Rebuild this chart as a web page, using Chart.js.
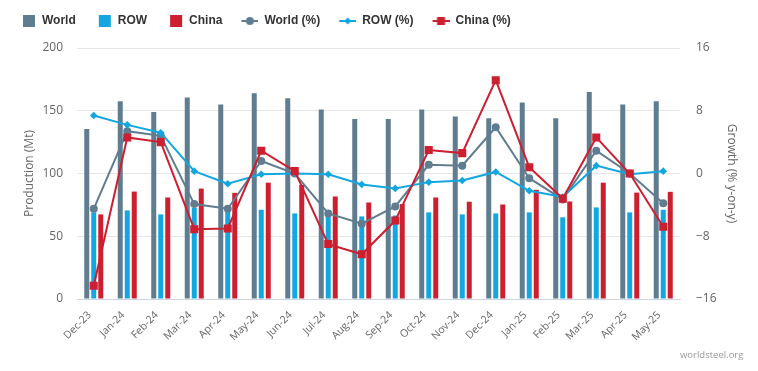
<!DOCTYPE html>
<html><head><meta charset="utf-8">
<script src="https://cdn.jsdelivr.net/npm/chart.js@4.4.1/dist/chart.umd.min.js"></script>
<style>
html,body{margin:0;padding:0;background:#fff;}
#wrap{position:relative;width:758px;height:371px;}
#credit{position:absolute;left:680px;top:348px;font:9.5px "Open Sans",sans-serif;color:#999;white-space:nowrap;}
</style></head><body>
<div id="wrap"><canvas id="c" width="758" height="371"></canvas><div id="credit">worldsteel.org</div></div>
<script>
const categories = ['Dec-23','Jan-24','Feb-24','Mar-24','Apr-24','May-24','Jun-24','Jul-24','Aug-24','Sep-24','Oct-24','Nov-24','Dec-24','Jan-25','Feb-25','Mar-25','Apr-25','May-25'];
const worldMt = [135.5,157.5,149,160.5,155,164,160,151,143.5,143.5,151,145.5,144,156.5,144,165,155,157.5];
const rowMt   = [69,70.6,67.4,72.5,70,71.1,68.2,69.5,65.8,66.5,69,67.4,68.2,69,65.1,73,69,71.1];
const chinaMt = [67.4,85.6,80.9,88,84.6,92.7,90.9,81.7,76.9,75.6,80.9,77.5,75.3,87,77.7,92.7,84.8,85.4];
const worldPct = [-4.5,5.4,4.8,-3.9,-4.5,1.6,0.0,-5.1,-6.4,-4.2,1.1,1.0,5.9,-0.6,-3.3,2.9,0.0,-3.8];
const rowPct   = [7.4,6.2,5.2,0.3,-1.3,-0.1,0.0,-0.1,-1.4,-1.9,-1.1,-0.9,0.2,-2.2,-3.0,1.0,-0.1,0.3];
const chinaPct = [-14.3,4.6,4.0,-7.1,-7.0,2.9,0.3,-9.0,-10.3,-6.0,3.0,2.6,11.9,0.8,-3.2,4.6,0.0,-6.8];
const leftTicks = [0,50,100,150,200];
const rightTicks = [-16,-8,0,8,16];

const C_WORLD = '#607d90', C_ROW = '#12a7e0', C_CHINA = '#cc1f30';
const FONT = '"Open Sans", "DejaVu Sans", sans-serif';
const LFONT = '"Liberation Sans", Arial, sans-serif';

function mk(draw){ const c=document.createElement('canvas'); c.width=28; c.height=12; const x=c.getContext('2d'); draw(x); return c; }
const legendIcons = [
  mk(x=>{x.fillStyle=C_WORLD;x.fillRect(15,0,12,12);}),
  mk(x=>{x.fillStyle=C_ROW;x.fillRect(15,0,12,12);}),
  mk(x=>{x.fillStyle=C_CHINA;x.fillRect(15,0,12,12);}),
  mk(x=>{x.strokeStyle=C_WORLD;x.lineWidth=2;x.beginPath();x.moveTo(11,6);x.lineTo(28,6);x.stroke();x.fillStyle=C_WORLD;x.beginPath();x.arc(19.5,6,4,0,Math.PI*2);x.fill();}),
  mk(x=>{x.strokeStyle=C_ROW;x.lineWidth=2;x.beginPath();x.moveTo(11,6);x.lineTo(28,6);x.stroke();x.fillStyle=C_ROW;x.beginPath();x.moveTo(19.5,2.5);x.lineTo(23,6);x.lineTo(19.5,9.5);x.lineTo(16,6);x.closePath();x.fill();}),
  mk(x=>{x.strokeStyle=C_CHINA;x.lineWidth=2;x.beginPath();x.moveTo(11,6);x.lineTo(28,6);x.stroke();x.fillStyle=C_CHINA;x.fillRect(15.5,2,8,8);})
];

const minus = v => String(v).replace('-', '\u2212');

const legendSpace = {
  id:'legendSpace',
  beforeUpdate(chart){
    const lg = chart.legend;
    if (lg && !lg._padded) {
      const f = lg.fit;
      lg.fit = function(){ f.call(this); this.height += 11; };
      lg._padded = true;
    }
  }
};

new Chart(document.getElementById('c'), {
  type: 'bar',
  data: {
    labels: categories,
    datasets: [
      {label:'World', data:worldMt, backgroundColor:C_WORLD, yAxisID:'y', order:3, categoryPercentage:0.627, barPercentage:0.714},
      {label:'ROW', data:rowMt, backgroundColor:C_ROW, yAxisID:'y', order:4, categoryPercentage:0.627, barPercentage:0.714},
      {label:'China', data:chinaMt, backgroundColor:C_CHINA, yAxisID:'y', order:5, categoryPercentage:0.627, barPercentage:0.714},
      {type:'line', label:'World (%)', data:worldPct, yAxisID:'y1', order:2, borderColor:C_WORLD, backgroundColor:C_WORLD, borderWidth:2, pointStyle:'circle', pointRadius:4, pointBackgroundColor:C_WORLD, pointBorderColor:C_WORLD, pointBorderWidth:0, tension:0},
      {type:'line', label:'ROW (%)', data:rowPct, yAxisID:'y1', order:1, borderColor:C_ROW, backgroundColor:C_ROW, borderWidth:2, pointStyle:'rectRot', pointRadius:3.8, pointBackgroundColor:C_ROW, pointBorderColor:C_ROW, pointBorderWidth:0, tension:0},
      {type:'line', label:'China (%)', data:chinaPct, yAxisID:'y1', order:0, borderColor:C_CHINA, backgroundColor:C_CHINA, borderWidth:2, pointStyle:'rect', pointRadius:5.7, pointBackgroundColor:C_CHINA, pointBorderColor:C_CHINA, pointBorderWidth:0, tension:0}
    ]
  },
  plugins:[legendSpace],
  options: {
    responsive:false, animation:false, devicePixelRatio:1,
    layout:{padding:{top:7,left:0,right:0,bottom:0}},
    plugins:{
      tooltip:{enabled:false},
      legend:{
        position:'top', align:'start',
        labels:{
          usePointStyle:true, pointStyleWidth:28, padding:8, color:'#333',
          font:{family:LFONT, size:12, weight:'bold'},
          sort:(a,b)=>a.datasetIndex-b.datasetIndex,
          generateLabels:(chart)=>{
            const items = Chart.defaults.plugins.legend.labels.generateLabels(chart);
            items.forEach(it=>{ it.pointStyle = legendIcons[it.datasetIndex]; it.lineWidth=0; });
            return items;
          }
        }
      }
    },
    scales:{
      x:{
        grid:{display:false, drawTicks:false},
        border:{display:true, color:'#ccd6eb', width:1},
        ticks:{autoSkip:false, minRotation:45, maxRotation:45, padding:10, labelOffset:-4, color:'#666', font:{family:FONT,size:10.5}},
        afterFit:(s)=>{s.height=72;}
      },
      y:{
        position:'left', min:0, max:200,
        afterBuildTicks:(s)=>{s.ticks=leftTicks.map(v=>({value:v}));},
        grid:{color:'#e6e6e6', drawTicks:false},
        border:{display:false},
        ticks:{padding:14, color:'#666', font:{family:FONT,size:12}},
        title:{display:true, text:'Production (Mt)', color:'#666', font:{family:FONT,size:12}, padding:{top:22,bottom:0}},
        afterFit:(s)=>{s.width=77;}
      },
      y1:{
        position:'right', min:-16, max:16,
        afterBuildTicks:(s)=>{s.ticks=rightTicks.map(v=>({value:v}));},
        grid:{drawOnChartArea:false, drawTicks:false},
        border:{display:false},
        ticks:{padding:16, color:'#666', font:{family:FONT,size:12}, callback:(v)=>minus(v)},
        title:{display:true, text:'Growth (% y-on-y)', color:'#666', font:{family:FONT,size:12}, padding:{top:19,bottom:0}},
        afterFit:(s)=>{s.width=78;}
      }
    }
  }
});
</script>
</body></html>
